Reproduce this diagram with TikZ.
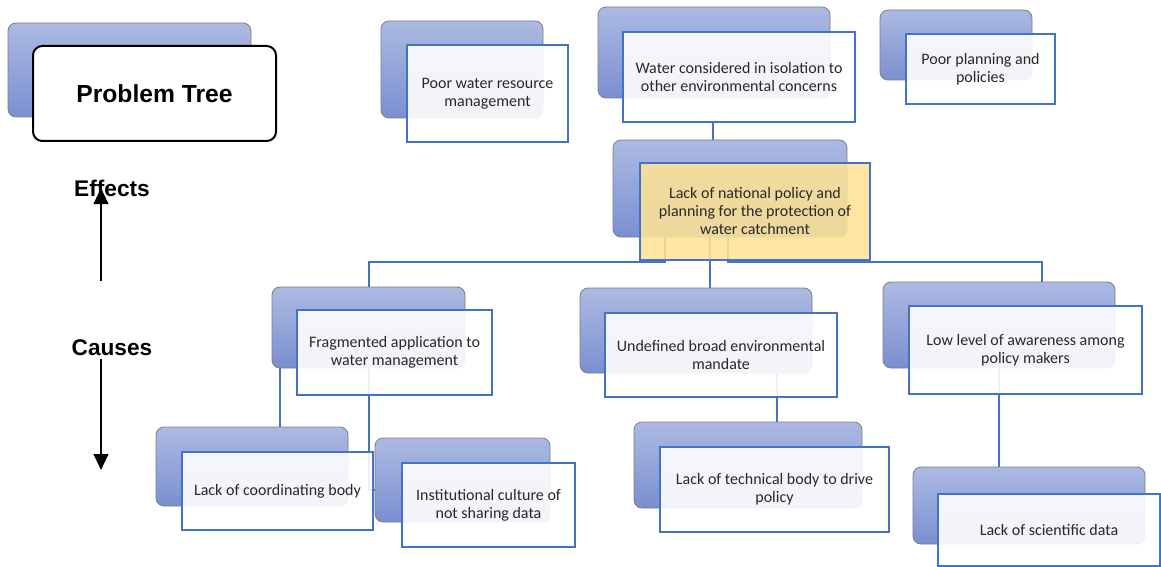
\documentclass[tikz,border=0pt]{standalone}
\usepackage{fontspec}
\setmainfont{Carlito}
\newfontfamily\headfont{Liberation Sans}
\usetikzlibrary{calc,arrows.meta,backgrounds}

\definecolor{lineblue}{HTML}{4472C4}
\definecolor{backtop}{RGB}{172,186,226}
\definecolor{backbot}{RGB}{122,143,208}
\definecolor{backedge}{RGB}{125,125,130}
\definecolor{keyyellow}{RGB}{253,226,150}
\definecolor{txt}{RGB}{40,40,40}

\tikzset{
  % a box given by its corners (x1,y1) and (x2,y2), in picture units
  span/.style n args={4}{minimum width={(#3-#1)*0.75pt}, minimum height={(#4-#2)*0.75pt},
    at={({(#1+#3)/2},{(#2+#4)/2})}, anchor=center},
  backbox/.style={rounded corners=6pt, top color=backtop, bottom color=backbot,
    draw=backedge, line width=0.6pt, inner sep=0pt},
  frontbox/.style={draw=lineblue, line width=0.8pt, fill=white, fill opacity=0.9,
    text opacity=1, inner sep=0pt, align=center, text=txt,
    font=\fontsize{12}{13.5}\selectfont},
  keybox/.style={frontbox, fill=keyyellow, fill opacity=0.88},
  titlebox/.style={draw=black, line width=1.5pt, rounded corners=7pt, fill=white,
    inner sep=0pt, font=\headfont\bfseries\fontsize{18.5}{22}\selectfont},
  sidelabel/.style={font=\headfont\bfseries\fontsize{17}{20}\selectfont, inner sep=0pt},
  conn/.style={draw=lineblue, line width=1.5pt},
  sidearrow/.style={line width=1.5pt, -{Triangle[length=12pt,width=11pt]}}
}

\begin{document}
\begin{tikzpicture}[x=0.75pt,y=-0.75pt]
\useasboundingbox (0,0) rectangle (1161,567);

% title
\node[backbox, span={8}{23}{251}{117}] (ptb) {};
\node[titlebox, span={33}{46}{276}{141}] (pt) {Problem Tree};

% effects row
\node[backbox, span={381}{21}{543}{118}] (e1b) {};
\node[frontbox, span={407}{45}{568}{142}] (e1) {Poor water resource\\management};
\node[backbox, span={598}{7}{830}{98}] (e2b) {};
\node[frontbox, span={623}{32}{855}{122}] (e2) {Water considered in isolation to\\other environmental concerns};
\node[backbox, span={880}{10}{1032}{80}] (e3b) {};
\node[frontbox, span={906}{34}{1055}{104}] (e3) {Poor planning and\\policies};

% core problem
\node[backbox, span={613}{140}{847}{237}] (cpb) {};
\node[keybox, span={640}{163}{870}{260}] (cp) {Lack of national policy and\\planning for the protection of\\water catchment};

% causes
\node[backbox, span={272}{287}{465}{368}] (k1b) {};
\node[frontbox, span={297}{310}{492}{395}] (k1) {Fragmented application to\\water management};
\node[backbox, span={580}{288}{812}{373}] (k2b) {};
\node[frontbox, span={605}{313}{837}{397}] (k2) {Undefined broad environmental\\mandate};
\node[backbox, span={883}{282}{1115}{368}] (k3b) {};
\node[frontbox, span={909}{306}{1142}{394}] (k3) {Low level of awareness among\\policy makers};

% root causes
\node[backbox, span={156}{427}{348}{506}] (g1b) {};
\node[frontbox, span={182}{452}{373}{530}] (g1) {Lack of coordinating body};
\node[backbox, span={375}{438}{550}{522}] (g2b) {};
\node[frontbox, span={402}{463}{575}{547}] (g2) {Institutional culture of\\not sharing data};
\node[backbox, span={634}{422}{862}{508}] (g3b) {};
\node[frontbox, span={660}{447}{889}{532}] (g3) {Lack of technical body to drive\\policy};
\node[backbox, span={913}{467}{1145}{544}] (g4b) {};
\node[frontbox, span={938}{494}{1160}{566}] (g4) {Lack of scientific data};

% side labels and arrows
\node[sidelabel] (eff) at (112,188) {Effects};
\node[sidelabel] (cau) at (112,348) {Causes};
\coordinate (upfrom) at (101,281);
\coordinate (upto) at (101,188);
\coordinate (downfrom) at (101,359);
\coordinate (downto) at (101,470);
\draw[sidearrow] (upfrom) -- (upto);
\draw[sidearrow] (downfrom) -- (downto);

% connectors behind the boxes
\begin{scope}[on background layer]
  \fill[white] (0,0) rectangle (1161,567);
  \draw[conn] ($(cpb.north)+(-17,0)$) coordinate (t1) -- (t1 |- e2.south);
  \draw[conn] ($(cpb.south)+(-65,0)$) -- ++(0,25) -| (k1b.north);
  \draw[conn] ($(cpb.south)+(-20,0)$) coordinate (t2) -- (t2 |- k2b.north);
  \draw[conn] ($(cpb.south)+(-2,0)$) -- ++(0,25) -| ($(k3b.north)+(43,0)$);
  \draw[conn] ($(k1b.south)+(-89,0)$) coordinate (t3) -- (t3 |- g1b.north);
  \draw[conn] (k1b.south) |- ($(g2b.west)+(0,10)$);
  \draw[conn] ($(k2b.south)+(81,0)$) coordinate (t4) -- (t4 |- g3b.north);
  \draw[conn] (k3b.south) -- (k3b.south |- g4b.north);
\end{scope}
\end{tikzpicture}
\end{document}
